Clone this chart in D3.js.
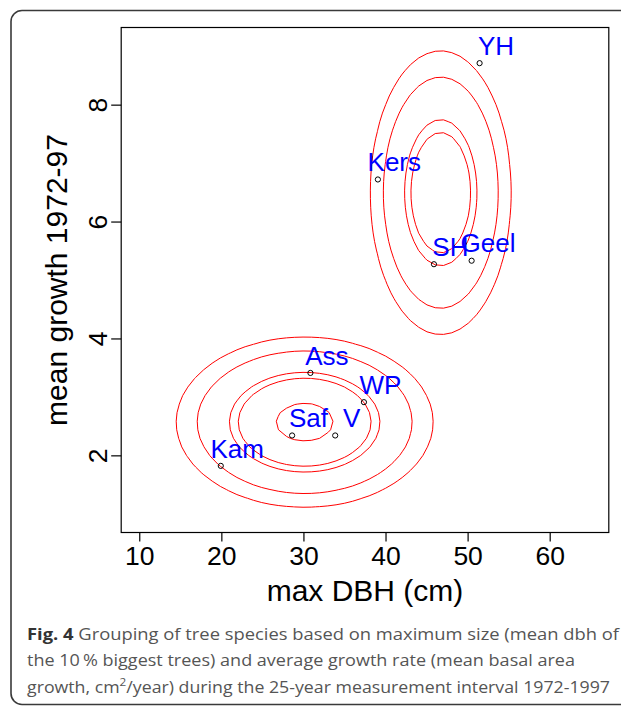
<!DOCTYPE html>
<html lang="en">
<head>
    <meta charset="UTF-8">
    <title>Grouping of tree species</title>
    <script src="https://d3js.org/d3.v7.min.js"></script>
    <style>
        body { margin: 0; background: #fff; }
        svg { display: block; }
        .rfont { font-family: "Liberation Sans", Arial, Helvetica, sans-serif; }
        .caption { font-family: "Open Sans", "Noto Sans", sans-serif; fill: #555; }
    </style>
</head>
<body>
    <svg width="621" height="706"></svg>
    <script>
        // species, max DBH (cm) and mean growth 1972-97
        const species = ["YH", "Kers", "SH", "Geel", "Ass", "WP", "Saf", "V", "Kam"];
        const maxDBH = [51.46, 39.07, 45.9, 50.49, 30.85, 37.37, 28.62, 33.87, 19.93];
        const meanGrowth = [8.71, 6.72, 5.27, 5.33, 3.41, 2.91, 2.34, 2.34, 1.82];

        // one normal density per group, used for the red contours
        const groupWeight = [0.555, 0.463];
        const groupMeanX = [30.15, 46.73];
        const groupMeanY = [2.567, 6.494];
        const groupSdX = [8.0, 4.634];
        const groupSdY = [0.744, 1.313];
        const contourLevels = [0.0022, 0.0039, 0.0077, 0.0089, 0.0135];

        const xTicks = [10, 20, 30, 40, 50, 60];
        const yTicks = [2, 4, 6, 8];

        const captionLines = [
            ["Fig. 4", " Grouping of tree species based on maximum size (mean dbh of"],
            ["", "the 10\u2009% biggest trees) and average growth rate (mean basal area"],
            ["", "growth, cm", "2", "/year) during the 25-year measurement interval 1972-1997"]
        ];
        const captionWidths = [592, 548, 583];

        const svg = d3.select("svg");

        // outer figure frame
        svg.append("rect")
            .attr("x", 11).attr("y", 10.5)
            .attr("width", 700).attr("height", 694)
            .attr("rx", 11)
            .attr("fill", "none")
            .attr("stroke", "#3a3a3a")
            .attr("stroke-width", 1.6);

        const x = d3.scaleLinear().domain([7.8, 67.2]).range([121.2, 608.8]);
        const y = d3.scaleLinear().domain([0.68, 9.32]).range([532.5, 27.5]);

        // density grid over the plot region, one grid per group
        const nx = 60, ny = 60;
        const [x0, x1] = x.domain(), [y0, y1] = y.domain();
        const sx = (x1 - x0) / (nx - 1), sy = (y1 - y0) / (ny - 1);
        const toPlot = d3.geoTransform({
            point(px, py) {
                this.stream.point(x(x0 + (px - 0.5) * sx), y(y0 + (py - 0.5) * sy));
            }
        });
        const contourG = svg.append("g");

        groupWeight.forEach((w, k) => {
            const grid = new Array(nx * ny);
            for (let j = 0; j < ny; j++) {
                for (let i = 0; i < nx; i++) {
                    const zx = (x0 + i * sx - groupMeanX[k]) / groupSdX[k];
                    const zy = (y0 + j * sy - groupMeanY[k]) / groupSdY[k];
                    grid[j * nx + i] = w / (2 * Math.PI * groupSdX[k] * groupSdY[k]) *
                        Math.exp(-0.5 * (zx * zx + zy * zy));
                }
            }
            const contours = d3.contours().size([nx, ny]).thresholds(contourLevels)(grid);
            contourG.append("g")
                .selectAll("path")
                .data(contours)
                .join("path")
                .attr("d", d3.geoPath(toPlot))
                .attr("fill", "none")
                .attr("stroke", "#ff0000")
                .attr("stroke-width", 1);
        });

        // points
        const idx = d3.range(species.length);
        svg.append("g")
            .selectAll("circle")
            .data(idx)
            .join("circle")
            .attr("cx", i => x(maxDBH[i]))
            .attr("cy", i => y(meanGrowth[i]))
            .attr("r", 2.6)
            .attr("fill", "none")
            .attr("stroke", "#000")
            .attr("stroke-width", 1);

        // species labels (offset like text(x + 2, y + 0.3))
        const labelSize = 26;
        svg.append("g")
            .attr("class", "rfont")
            .selectAll("text")
            .data(idx)
            .join("text")
            .attr("x", i => x(maxDBH[i] + 2))
            .attr("y", i => y(meanGrowth[i] + 0.3) + 0.358 * labelSize)
            .attr("text-anchor", "middle")
            .attr("font-size", labelSize)
            .attr("fill", "#0000ff")
            .text(i => species[i]);

        // plot box
        svg.append("rect")
            .attr("x", x.range()[0]).attr("y", y.range()[1])
            .attr("width", x.range()[1] - x.range()[0])
            .attr("height", y.range()[0] - y.range()[1])
            .attr("fill", "none")
            .attr("stroke", "#000")
            .attr("stroke-width", 1.2);

        // axes
        svg.append("g")
            .attr("class", "rfont")
            .attr("transform", `translate(0,${y.range()[0]})`)
            .call(d3.axisBottom(x).tickValues(xTicks).tickSize(9).tickPadding(5))
            .call(g => g.select(".domain").remove())
            .call(g => g.selectAll("line").attr("stroke", "#000").attr("stroke-width", 1.2))
            .call(g => g.selectAll("text").attr("font-size", 26.5).attr("fill", "#000"));

        svg.append("g")
            .attr("class", "rfont")
            .attr("transform", `translate(${x.range()[0]},0)`)
            .call(d3.axisLeft(y).tickValues(yTicks).tickSize(10))
            .call(g => g.select(".domain").remove())
            .call(g => g.selectAll("line").attr("stroke", "#000").attr("stroke-width", 1.2))
            .call(g => g.selectAll("text")
                .attr("transform", "rotate(-90)")
                .attr("x", 0).attr("y", -14).attr("dy", null)
                .attr("text-anchor", "middle")
                .attr("font-size", 26.5).attr("fill", "#000"));

        // axis titles
        svg.append("text")
            .attr("class", "rfont")
            .attr("x", (x.range()[0] + x.range()[1]) / 2)
            .attr("y", 601)
            .attr("text-anchor", "middle")
            .attr("font-size", 30)
            .text("max DBH (cm)");

        svg.append("text")
            .attr("class", "rfont")
            .attr("transform", `translate(67,${(y.range()[0] + y.range()[1]) / 2}) rotate(-90)`)
            .attr("text-anchor", "middle")
            .attr("font-size", 30)
            .text("mean growth 1972-97");

        // caption, each line fitted to the width it has in the figure
        const cap = svg.append("g").attr("class", "caption").attr("font-size", 16.6);
        captionLines.forEach((parts, li) => {
            const t = cap.append("text").attr("x", 27).attr("y", 640 + li * 26.3);
            parts.forEach((p, pi) => {
                if (!p) return;
                const s = t.append("tspan").text(p);
                if (li === 0 && pi === 0) s.attr("font-weight", "bold").attr("fill", "#333");
                if (li === 2 && pi === 2) s.attr("font-size", 11).attr("dy", -7);
                if (li === 2 && pi === 3) s.attr("dy", 7);
            });
            t.attr("textLength", captionWidths[li]).attr("lengthAdjust", "spacingAndGlyphs");
        });
    </script>
</body>
</html>
